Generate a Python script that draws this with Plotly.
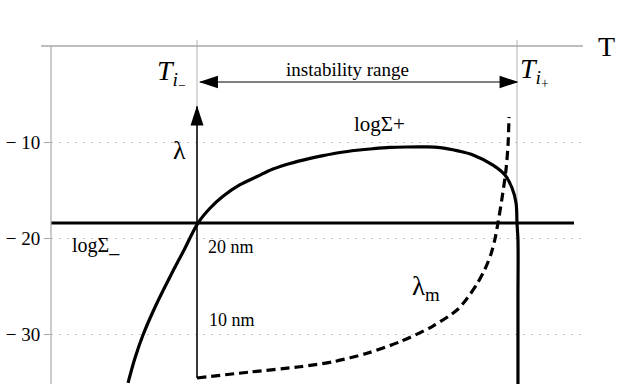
import plotly.graph_objects as go

# temperature in arbitrary units: T_i- = 1, T_i+ = 3
T_MINUS = 1.0
T_PLUS = 3.0
LOG_SIGMA_MINUS = -18.44
Y_TICKS = [-10, -20, -30]
Y_TICK_TEXT = ["\u2212 10", "\u2212 20", "\u2212 30"]

# log Sigma+ (solid curve)
sigma_plus_T = [0.569, 0.6125, 0.6625, 0.744, 0.831, 0.919, 1.006, 1.081, 1.1625, 1.269,
                1.375, 1.475, 1.581, 1.6875, 1.7875, 1.894, 2.0, 2.1, 2.206, 2.3125,
                2.425, 2.519, 2.631, 2.725, 2.85, 2.925, 2.969, 2.994, 3.0, 3.006,
                3.006, 3.006]
sigma_plus = [-35.1, -32.5, -30.1, -26.98, -24.06, -21.25, -18.44, -16.9, -15.65, -14.45,
              -13.6, -12.82, -12.24, -11.78, -11.42, -11.09, -10.86, -10.70, -10.57, -10.52,
              -10.51, -10.58, -10.92, -11.35, -12.40, -13.44, -14.79, -16.35, -18.44, -20.21,
              -26.5, -35.2]

# lambda_m (dashed curve)
lambda_m_T = [1.0, 1.331, 1.644, 1.85, 2.0625, 2.269, 2.475, 2.625, 2.6875, 2.75,
              2.8, 2.8375, 2.8625, 2.881, 2.906, 2.931, 2.944, 2.95]
lambda_m = [-34.58, -33.96, -33.41, -32.89, -32.01, -30.80, -29.17, -27.5, -26.30, -24.79,
            -23.23, -21.67, -20.10, -18.44, -15.89, -12.92, -10.31, -7.40]

X_RANGE = [0.0875, 3.4125]
Y_RANGE = [-35.208, 2.708]
SERIF = "Liberation Serif, Times New Roman, serif"

fig = go.Figure()

# horizontal log Sigma_ level
fig.add_trace(go.Scatter(x=[X_RANGE[0], 3.356], y=[LOG_SIGMA_MINUS] * 2, mode="lines",
                         line=dict(color="black", width=3.2)))
fig.add_trace(go.Scatter(x=sigma_plus_T, y=sigma_plus, mode="lines",
                         line=dict(color="black", width=3.2, shape="spline", smoothing=1.0)))
fig.add_trace(go.Scatter(x=lambda_m_T, y=lambda_m, mode="lines",
                         line=dict(color="black", width=3.2, dash="9px,5px",
                                   shape="spline", smoothing=0.8)))

# lambda axis with arrow
fig.add_trace(go.Scatter(x=[T_MINUS, T_MINUS], y=[lambda_m[0], -6.3], mode="lines",
                         line=dict(color="black", width=1.5)))
fig.add_trace(go.Scatter(x=[T_MINUS], y=[-6.2], mode="markers",
                         marker=dict(symbol="arrow", size=21, angle=0, color="black",
                                     line=dict(width=0))))

# instability range double arrow
fig.add_trace(go.Scatter(x=[T_MINUS + 0.02, T_PLUS], y=[-3.75, -3.75], mode="lines",
                         line=dict(color="black", width=1.2)))
fig.add_trace(go.Scatter(x=[T_MINUS + 0.012, T_PLUS + 0.01], y=[-3.75, -3.75], mode="markers",
                         marker=dict(symbol="arrow", size=20, angle=[-90, 90], color="black",
                                     line=dict(width=0))))

shapes = [
    dict(type="line", xref="paper", yref="y", x0=-10 / 532, x1=1, y0=0, y1=0,
         line=dict(color="#a8a8a8", width=1.5)),
    dict(type="line", xref="paper", yref="y", x0=0, x1=0, y0=0, y1=Y_RANGE[0],
         line=dict(color="#a8a8a8", width=1.2)),
    dict(type="line", xref="x", yref="y", x0=T_MINUS, x1=T_MINUS, y0=0.625, y1=lambda_m[0],
         line=dict(color="#b4b4b4", width=1), layer="below"),
    dict(type="line", xref="x", yref="y", x0=T_PLUS, x1=T_PLUS, y0=0.625, y1=LOG_SIGMA_MINUS,
         line=dict(color="#b4b4b4", width=1), layer="below"),
]


def label(text, x, y, size, xanchor="center", xref="x"):
    return dict(text=text, x=x, y=y, xref=xref, yref="y", showarrow=False,
                xanchor=xanchor, yanchor="middle",
                font=dict(family=SERIF, size=size, color="black"))


annotations = [
    label("T", 1.045, -0.1, 28, xref="paper"),
    label("<i>T</i><sub><i>i</i><sub>\u2212</sub></sub>", 0.945, -2.9, 28, xanchor="right"),
    label("<i>T</i><sub><i>i</i><sub>+</sub></sub>", 3.006, -2.7, 28, xanchor="left"),
    label("instability range", 1.9375, -2.4, 19),
    label("log\u03a3+", 2.1375, -8.1, 21),
    label("\u03bb", 0.8875, -10.9, 26),
    label("log\u03a3_", 0.371, -20.8, 20),
    label("20 nm", 1.2125, -20.9, 18),
    label("10 nm", 1.21875, -28.5, 18),
    label("\u03bb<sub>m</sub>", 2.33, -25.2, 27, xanchor="left"),
]

fig.update_layout(
    width=623, height=384,
    margin=dict(l=51, r=40, t=20, b=0),
    paper_bgcolor="white", plot_bgcolor="white",
    showlegend=False,
    shapes=shapes,
    annotations=annotations,
    xaxis=dict(range=X_RANGE, visible=False),
    yaxis=dict(range=Y_RANGE, tickvals=Y_TICKS, ticktext=Y_TICK_TEXT,
               showline=False, zeroline=False, ticks="outside", ticklen=6,
               tickcolor="#a8a8a8", showgrid=True, gridcolor="#c4c4c4",
               griddash="2px,6px", gridwidth=1,
               tickfont=dict(family=SERIF, size=19, color="black")),
)

# drop the browser's default page margin so the chart sits at the window origin
fig.write_html("out.html", config={"displayModeBar": False},
               post_script="document.body.style.margin='0';")
